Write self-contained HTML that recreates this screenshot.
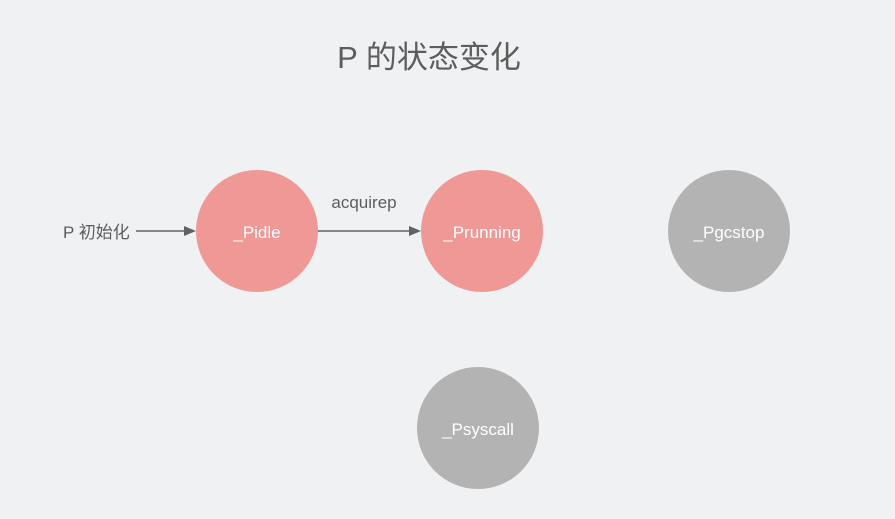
<!DOCTYPE html>
<html><head><meta charset="utf-8"><style>
html,body{margin:0;padding:0;background:#f0f1f3;}
svg{display:block;}
text{font-family:"Liberation Sans","Noto Sans CJK SC",sans-serif;}
</style></head><body>
<svg width="895" height="519" viewBox="0 0 895 519" xmlns="http://www.w3.org/2000/svg">
<rect width="895" height="519" fill="#f0f1f3"/>
<text x="429" y="68" font-size="31" fill="#5d5d5d" text-anchor="middle">P 的状态变化</text>
<circle cx="257" cy="231" r="61" fill="#ef9896"/>
<circle cx="482" cy="231" r="61" fill="#ef9896"/>
<circle cx="729" cy="231" r="61" fill="#b3b3b3"/>
<circle cx="478" cy="428" r="61" fill="#b3b3b3"/>
<text x="257" y="238" font-size="17" fill="#fff" text-anchor="middle">_Pidle</text>
<text x="482" y="238" font-size="17" fill="#fff" text-anchor="middle">_Prunning</text>
<text x="729" y="238" font-size="17" fill="#fff" text-anchor="middle">_Pgcstop</text>
<text x="478" y="435" font-size="17" fill="#fff" text-anchor="middle">_Psyscall</text>
<text x="63" y="238" font-size="17" fill="#5d5d5d">P 初始化</text>
<line x1="136" y1="231" x2="188" y2="231" stroke="#5f6368" stroke-width="1.6"/>
<polygon points="196,231 184,226 184,236" fill="#5f6368"/>
<line x1="318" y1="231" x2="412" y2="231" stroke="#5f6368" stroke-width="1.6"/>
<polygon points="421,231 409,226 409,236" fill="#5f6368"/>
<text x="364" y="208" font-size="17" fill="#5d5d5d" text-anchor="middle">acquirep</text>
</svg>
</body></html>
